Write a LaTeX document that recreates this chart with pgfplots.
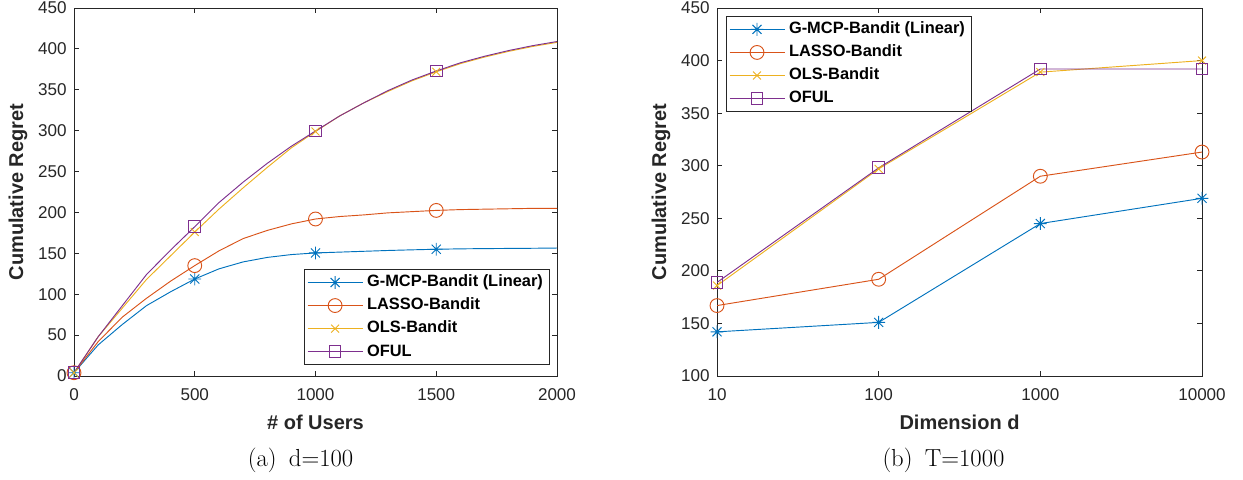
\documentclass[border=0pt]{standalone}
\usepackage{pgfplots}
\pgfplotsset{compat=1.18}
\usepackage{pgfplotstable}
\usepackage{fontspec}
\newfontfamily\arial{Liberation Sans}
\definecolor{c1}{rgb}{0,0.447,0.741}
\definecolor{c2}{rgb}{0.85,0.325,0.098}
\definecolor{c3}{rgb}{0.929,0.694,0.125}
\definecolor{c4}{rgb}{0.494,0.184,0.556}
\definecolor{axgray}{rgb}{0.15,0.15,0.15}
\pgfdeclareplotmark{mlstar}{%
 \pgfpathmoveto{\pgfqpoint{0pt}{\pgfplotmarksize}}\pgfpathlineto{\pgfqpoint{0pt}{-\pgfplotmarksize}}%
 \pgfpathmoveto{\pgfqpoint{\pgfplotmarksize}{0pt}}\pgfpathlineto{\pgfqpoint{-\pgfplotmarksize}{0pt}}%
 \pgfpathmoveto{\pgfqpoint{.7071\pgfplotmarksize}{.7071\pgfplotmarksize}}\pgfpathlineto{\pgfqpoint{-.7071\pgfplotmarksize}{-.7071\pgfplotmarksize}}%
 \pgfpathmoveto{\pgfqpoint{.7071\pgfplotmarksize}{-.7071\pgfplotmarksize}}\pgfpathlineto{\pgfqpoint{-.7071\pgfplotmarksize}{.7071\pgfplotmarksize}}%
 \pgfusepathqstroke}

\pgfplotstableread{
x    gmcp  lasso  ols   oful
0    4     4      4     4
100  38    42     48    48
200  63    72     83    86
300  86    95     118   124
400  103   116    147   154
500  118.6 135    176   182.6
600  131   153    204   212
700  139.5 168    230   237
800  145   178    255   260
900  148.5 186    279   281
1000 150.5 192    299   299.6
1100 151.5 195    318   318
1200 152.5 197    334   334
1300 153.5 199.5  348   349
1400 154.3 201    361   362
1500 155   202.5  372   373
1600 155.5 203.5  382   383
1700 155.8 204    390   391
1800 156   204.5  397   398
1900 156.2 205    403   404
2000 156.5 205    408   409
}\lefttab

\pgfplotstableread{
d     gmcp  lasso  ols   oful
10    142   167    186   189
100   151   192    297   298
1000  245   290    389   392
10000 269   313    400   392
}\righttab

\pgfplotsset{
  mystyle/.style={
    scale only axis,
    height=276pt,
    axis line style={axgray, line width=0.6pt},
    every tick/.style={axgray, line width=0.6pt},
    major tick length=3.75pt,
    tick label style={font=\arial\fontsize{12.8}{14}\selectfont, text=axgray},
    /pgf/number format/assume math mode=true,
    /pgf/number format/1000 sep={},
    yticklabel style={xshift=-2pt},
    xticklabel style={yshift=-6pt},
    xlabel style={at={(axis description cs:0.5,-0.125)}, anchor=center,
      font=\arial\bfseries\fontsize{15}{18}\selectfont, text=axgray},
    ylabel style={at={(axis description cs:-0.1159,0.5)}, anchor=center, rotate=0,
      font=\arial\bfseries\fontsize{15}{18}\selectfont, text=axgray},
    legend cell align=left,
    legend style={draw=axgray, line width=0.6pt, fill=white,
      font=\arial\bfseries\fontsize{12.3}{14}\selectfont, text=black,
      inner xsep=2pt, inner ysep=1pt,
      nodes={text height=9pt, text depth=2.5pt, inner ysep=2.9pt, inner xsep=3pt}},
    legend image code/.code={%
      \draw[#1, mark indices={2}] plot coordinates {(0pt,0pt) (20.6pt,0pt) (41.25pt,0pt)};},
  },
  s1/.style={c1, line width=0.7pt, mark=mlstar, mark size=4.8pt, mark options={solid}},
  s2/.style={c2, line width=0.7pt, mark=o, mark size=5.2pt, mark options={solid}},
  s3/.style={c3, line width=0.7pt, mark=x, mark size=4.2pt, mark options={solid}},
  s4/.style={c4, line width=0.7pt, mark=square, mark size=4.4pt, mark options={solid}},
}

\begin{document}
\begin{tikzpicture}
\useasboundingbox (0,0) rectangle (932.25pt,-359.25pt);
\begin{axis}[mystyle,
  at={(55.5pt,-282pt)}, anchor=south west,
  width=362.25pt,
  xmin=0, xmax=2000, ymin=0, ymax=450,
  xtick={0,500,1000,1500,2000},
  ytick={0,50,...,450},
  xlabel={\# of Users},
  ylabel={Cumulative Regret},
  legend style={at={(0.9855,0.030)}, anchor=south east},
]
\addplot[s1, mark indices={1,6,11,16}] table[x=x,y=gmcp] {\lefttab};
\addlegendentry{G-MCP-Bandit (Linear)}
\addplot[s2, mark indices={1,6,11,16}] table[x=x,y=lasso] {\lefttab};
\addlegendentry{LASSO-Bandit}
\addplot[s3, mark indices={1,6,11,16}] table[x=x,y=ols] {\lefttab};
\addlegendentry{OLS-Bandit}
\addplot[s4, mark indices={1,6,11,16}] table[x=x,y=oful] {\lefttab};
\addlegendentry{OFUL}
\end{axis}

\begin{axis}[mystyle,
  at={(537.75pt,-282pt)}, anchor=south west,
  width=363.75pt,
  xmode=log, xmin=10, xmax=10000, ymin=100, ymax=450,
  xtick={10,100,1000,10000},
  xticklabels={10,100,1000,10000},
  xminorticks=false,
  ytick={100,150,...,450},
  xlabel={Dimension d},
  ylabel={Cumulative Regret},
  ylabel style={at={(axis description cs:-0.1155,0.5)}},
  legend style={at={(0.0186,0.978)}, anchor=north west},
]
\addplot[s1] table[x=d,y=gmcp] {\righttab};
\addlegendentry{G-MCP-Bandit (Linear)}
\addplot[s2] table[x=d,y=lasso] {\righttab};
\addlegendentry{LASSO-Bandit}
\addplot[s3] table[x=d,y=ols] {\righttab};
\addlegendentry{OLS-Bandit}
\addplot[s4] table[x=d,y=oful] {\righttab};
\addlegendentry{OFUL}
\end{axis}

\node[anchor=center, font=\fontsize{18.5}{22}\selectfont] at (225.4pt,-345pt) {(a)\hspace{0.5em}d=100};
\node[anchor=center, font=\fontsize{18.5}{22}\selectfont] at (707.6pt,-345pt) {(b)\hspace{0.5em}T=1000};
\end{tikzpicture}
\end{document}
